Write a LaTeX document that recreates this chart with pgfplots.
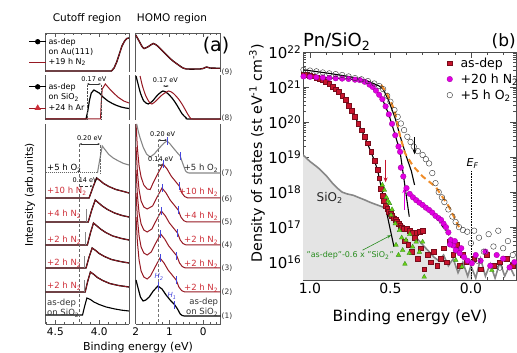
\documentclass[border=0pt]{standalone}
\usepackage{pgfplots}
\pgfplotsset{compat=1.18}
\usepackage{fontspec}
\setmainfont{DejaVu Sans}
\usetikzlibrary{arrows.meta}
\definecolor{cred}{RGB}{150,25,35}
\definecolor{lred}{RGB}{205,45,55}
\definecolor{cgray}{RGB}{135,135,135}
\definecolor{cblue}{RGB}{70,70,220}
\definecolor{sqred}{RGB}{200,20,45}
\definecolor{cmag}{RGB}{225,0,225}
\definecolor{corange}{RGB}{240,140,40}
\definecolor{cgreen}{RGB}{110,205,20}
\definecolor{dgreen}{RGB}{40,140,30}
\definecolor{sifill}{RGB}{228,228,228}
\pgfplotsset{
 pa/.style={scale only axis, anchor=south west, axis line style={black!65, line width=0.6pt}, ytick=\empty, x dir=reverse, clip=true, tick align=inside, tick style={black!65, line width=0.5pt}, major tick length=4pt, minor tick length=2pt, ymin=0},
 pl/.style={pa, width=83.3pt, xmin=3.66, xmax=4.61, xtick={4.0,4.5}, minor xtick={3.7,3.8,3.9,4.1,4.2,4.3,4.4,4.6}},
 pr/.style={pa, width=85pt, xmin=-0.52, xmax=2.0, xtick={0,1,2}, minor xtick={-0.4,-0.2,0.2,0.4,0.6,0.8,1.2,1.4,1.6,1.8}},
 topbox/.style={axis x line*=top, axis y line*=box, xticklabels={}},
 midbox/.style={axis x line=none, axis y line*=box, xtick=\empty},
 botbox/.style={axis x line*=bottom, axis y line*=box, tick label style={font=\fontsize{10.5}{10.5}\selectfont}},
}
\tikzset{
 lab/.style={font=\fontsize{8.5}{9}\selectfont, inner sep=0pt},
 sm/.style={font=\fontsize{6.5}{7}\selectfont, inner sep=0pt},
}
\begin{document}
\begin{tikzpicture}
\path[use as bounding box] (0pt,0pt) rectangle (517pt,353pt);

% ---------------- Cutoff (9)
\begin{axis}[pl, topbox, at={(45.7pt,281pt)}, height=39pt, ymax=39,
 legend style={at={(-0.205,0.93)}, anchor=north west, draw=none, fill=none, font=\fontsize{8}{9}\selectfont, row sep=-1.5pt, inner sep=0pt}, legend cell align=left]
\addlegendimage{black, line width=0.7pt, mark=*, mark size=2.3pt}
\addlegendimage{empty legend}
\addlegendimage{cred, line width=0.7pt}
\addplot[black, line width=1.4pt, forget plot] coordinates {(4.61,1)(3.86,1)(3.83,4)(3.80,10)(3.77,18)(3.74,26)(3.71,31)(3.685,33.5)(3.66,34)};
\addplot[cred, line width=0.8pt, forget plot] coordinates {(4.61,1)(3.86,1)(3.83,4)(3.80,10)(3.77,18)(3.74,26)(3.71,31)(3.685,33.5)(3.66,34)};
\legend{as-dep, on Au(111), +19 h N\textsubscript{2}}
\end{axis}

% ---------------- Cutoff (8)
\begin{axis}[pl, midbox, at={(45.7pt,233pt)}, height=45pt, ymax=45,
 legend style={at={(-0.205,0.87)}, anchor=north west, draw=none, fill=none, font=\fontsize{8}{9}\selectfont, row sep=-1pt, inner sep=0pt}, legend cell align=left]
\addlegendimage{black, line width=0.7pt, mark=*, mark size=2.3pt}
\addlegendimage{empty legend}
\addlegendimage{cred, line width=0.7pt, mark=triangle*, mark size=3pt, mark options={fill=lred, draw=lred}}
\addplot[black, line width=1.2pt, forget plot] coordinates {(4.61,1)(4.15,1)(4.13,9)(4.11,20)(4.09,27)(4.06,30)(4.0,27)(3.95,22.5)(3.9,19)(3.85,16.5)(3.8,14.5)(3.75,13)(3.7,12)(3.66,11.5)};
\addplot[cred, line width=1.0pt, forget plot] coordinates {(4.61,1)(3.985,1)(3.975,20)(3.965,31)(3.93,36)(3.88,31)(3.83,26.5)(3.78,22.5)(3.72,19)(3.66,17)};
\draw[densely dotted, black!70] (axis cs:4.14,1) -- (axis cs:4.14,36);
\draw[densely dotted, black!70] (axis cs:3.98,1) -- (axis cs:3.98,36);
\draw[{Stealth[length=2.5pt]}-{Stealth[length=2.5pt]}, black!80, line width=0.4pt] (axis cs:4.14,36) -- (axis cs:3.98,36);
\node[sm] at (axis cs:4.06,41) {0.17 eV};
\legend{as-dep, on SiO\textsubscript{2}, +24 h Ar}
\end{axis}

% ---------------- Cutoff (1)-(7)
\begin{axis}[pl, botbox, at={(45.7pt,29pt)}, height=200pt, ymax=200, xticklabels={4.0,4.5}]
\addplot[black, line width=1.1pt] coordinates {(4.61,9)(4.19,9)(4.165,18)(4.14,26)(4.10,24.5)(4.06,22)(4.0,19.5)(3.92,17)(3.82,15)(3.74,13.8)(3.66,13)};
\addplot[black, line width=1.3pt] coordinates {(4.61,32)(4.16,32)(4.13,43)(4.10,52)(4.06,49.5)(4.02,46.5)(3.96,43.5)(3.88,40.5)(3.78,38.5)(3.66,37)};
\addplot[cred, line width=0.8pt] coordinates {(4.61,32)(4.16,32)(4.13,43)(4.10,52)(4.06,49.5)(4.02,46.5)(3.96,43.5)(3.88,40.5)(3.78,38.5)(3.66,37)};
\addplot[black, line width=1.3pt] coordinates {(4.61,56)(4.15,56)(4.115,67)(4.08,76)(4.04,73.5)(4.0,70.5)(3.94,67.5)(3.86,64.5)(3.76,62.5)(3.66,61)};
\addplot[cred, line width=0.8pt] coordinates {(4.61,56)(4.15,56)(4.115,67)(4.08,76)(4.04,73.5)(4.0,70.5)(3.94,67.5)(3.86,64.5)(3.76,62.5)(3.66,61)};
\addplot[black, line width=1.3pt] coordinates {(4.61,79)(4.135,79)(4.10,91)(4.065,101)(4.025,98)(3.985,95)(3.925,91.5)(3.845,88)(3.745,85.5)(3.66,84)};
\addplot[cred, line width=0.8pt] coordinates {(4.61,79)(4.135,79)(4.10,91)(4.065,101)(4.025,98)(3.985,95)(3.925,91.5)(3.845,88)(3.745,85.5)(3.66,84)};
\addplot[black, line width=1.3pt] coordinates {(4.61,102)(4.125,102)(4.085,114)(4.045,124)(4.005,121)(3.965,118)(3.905,114.5)(3.825,111)(3.74,108.5)(3.66,107)};
\addplot[cred, line width=0.8pt] coordinates {(4.61,102)(4.125,102)(4.085,114)(4.045,124)(4.005,121)(3.965,118)(3.905,114.5)(3.825,111)(3.74,108.5)(3.66,107)};
\addplot[black, line width=1.3pt] coordinates {(4.61,126)(4.115,126)(4.07,137)(4.03,146)(3.99,143.5)(3.95,140.5)(3.89,137.5)(3.81,134.5)(3.72,132.5)(3.66,131)};
\addplot[cred, line width=0.8pt] coordinates {(4.61,126)(4.115,126)(4.07,137)(4.03,146)(3.99,143.5)(3.95,140.5)(3.89,137.5)(3.81,134.5)(3.72,132.5)(3.66,131)};
\addplot[black!60, line width=1.0pt, densely dotted] coordinates {(4.61,151)(4.02,151)};
\addplot[cgray, line width=1.1pt] coordinates {(4.02,151)(3.99,166)(3.965,178)(3.93,174)(3.89,169.5)(3.84,166)(3.78,163)(3.72,160.5)(3.66,159)};
% reference edges
\addplot[cgray, line width=0.6pt] coordinates {(4.175,32)(4.175,44)};
\addplot[cgray, line width=0.6pt] coordinates {(4.165,56)(4.165,68)};
\addplot[cgray, line width=0.6pt] coordinates {(4.155,79)(4.155,92)};
\addplot[cgray, line width=0.6pt] coordinates {(4.145,102)(4.145,115)};
\draw[densely dashed, black!60, line width=0.4pt] (axis cs:4.225,2) -- (axis cs:4.225,180);
\draw[densely dotted, black!60, line width=0.4pt] (axis cs:3.99,151) -- (axis cs:3.99,180);
\draw[{Stealth[length=2.5pt]}-{Stealth[length=2.5pt]}, black!80, line width=0.4pt] (axis cs:4.225,180) -- (axis cs:3.99,180);
\node[sm] at (axis cs:4.11,186) {0.20 eV};
\draw[densely dashed, black!80, -{Stealth[length=2.5pt]}, line width=0.4pt] (axis cs:4.215,138) -- (axis cs:4.075,138);
\node[sm] at (axis cs:4.16,144) {0.14 eV};
\node[lab, anchor=west] at (axis cs:4.595,156) {+5 h O\textsubscript{2}};
\node[lab, anchor=west, text=lred] at (axis cs:4.595,133) {+10 h N\textsubscript{2}};
\node[lab, anchor=west, text=lred] at (axis cs:4.595,110) {+4 h N\textsubscript{2}};
\node[lab, anchor=west, text=lred] at (axis cs:4.595,84) {+2 h N\textsubscript{2}};
\node[lab, anchor=west, text=lred] at (axis cs:4.595,61) {+2 h N\textsubscript{2}};
\node[lab, anchor=west, text=lred] at (axis cs:4.595,38) {+2 h N\textsubscript{2}};
\node[lab, anchor=west, text=black!80] at (axis cs:4.595,21) {as-dep};
\node[lab, anchor=west, text=black!80] at (axis cs:4.595,11) {on SiO\textsubscript{2}};
\end{axis}

% ---------------- HOMO (9)
\begin{axis}[pr, topbox, at={(135.7pt,281pt)}, height=39pt, ymax=39]
\addplot[black, line width=1.4pt, smooth, tension=0.4] coordinates {(2.0,37)(1.9,31)(1.82,26)(1.75,23.5)(1.62,25.5)(1.48,28.5)(1.35,26)(1.18,20.3)(0.93,12)(0.73,7)(0.6,4)(0.5,3)(0.1,3)(0.0,3.5)(-0.1,5)(-0.2,4)(-0.5,3.7)};
\addplot[cred, line width=0.8pt, smooth, tension=0.4] coordinates {(2.0,37)(1.9,31)(1.82,26)(1.75,23.5)(1.62,25.5)(1.48,28.5)(1.35,26)(1.18,20.3)(0.93,12)(0.73,7)(0.6,4)(0.5,3)(0.1,3)(0.0,3.5)(-0.1,5)(-0.2,4)(-0.5,3.7)};
\end{axis}

% ---------------- HOMO (8)
\begin{axis}[pr, midbox, at={(135.7pt,233pt)}, height=45pt, ymax=45]
\addplot[black, line width=1.2pt, smooth, tension=0.4] coordinates {(1.99,44)(1.93,36)(1.86,27)(1.76,19)(1.63,16)(1.50,19)(1.35,25)(1.19,29)(1.05,26.5)(0.90,21)(0.78,15)(0.62,6)(0.50,2)(0.44,1)(-0.52,1)};
\addplot[cred, line width=1.0pt, smooth, tension=0.4] coordinates {(1.87,44)(1.80,34)(1.70,24)(1.60,18)(1.52,16)(1.40,19)(1.22,25)(1.02,29)(0.88,26.5)(0.73,21)(0.61,15)(0.46,6)(0.38,2)(0.32,1)(-0.52,1)};
\draw[{Stealth[length=2.5pt]}-{Stealth[length=2.5pt]}, black!80, line width=0.4pt] (axis cs:1.19,34) -- (axis cs:1.02,34);
\node[sm] at (axis cs:1.12,39.5) {0.17 eV};
\end{axis}

% ---------------- HOMO (1)-(7)
\begin{axis}[pr, botbox, at={(135.7pt,29pt)}, height=200pt, ymax=200, xticklabels={0,1,2}]
\addplot[black, line width=1.2pt] coordinates {(1.99,44)(1.93,36)(1.86,27)(1.78,23)(1.70,24)(1.60,27)(1.48,33)(1.34,38)(1.22,35)(1.10,29)(0.98,24)(0.84,19)(0.76,15)(0.68,10)(0.62,8.5)(0.56,8)(-0.52,8)};
\addplot[cred, line width=1.0pt] coordinates {(1.99,107)(1.95,82)(1.90,64)(1.84,53)(1.76,47)(1.66,45)(1.56,48)(1.44,56)(1.28,66)(1.16,61)(1.04,54)(0.92,49)(0.80,44)(0.72,37)(0.64,33.5)(0.58,32.5)(0.54,32)(-0.52,32)};
\addplot[cred, line width=1.0pt] coordinates {(1.99,131)(1.95,106)(1.90,88)(1.84,77)(1.76,71)(1.66,69)(1.54,72)(1.42,80)(1.26,90)(1.14,85)(1.02,78)(0.90,73)(0.78,68)(0.70,61)(0.62,57.5)(0.56,56.5)(0.52,56)(-0.52,56)};
\addplot[cred, line width=1.0pt] coordinates {(1.99,154)(1.95,129)(1.90,111)(1.84,100)(1.76,94)(1.66,92)(1.52,95)(1.40,103)(1.24,113)(1.12,108)(1.00,101)(0.88,96)(0.76,91)(0.68,84)(0.60,80.5)(0.54,79.5)(0.50,79)(-0.52,79)};
\addplot[cred, line width=1.0pt] coordinates {(1.99,177)(1.95,152)(1.90,134)(1.84,123)(1.76,117)(1.66,115)(1.50,118)(1.38,126)(1.22,136)(1.10,131)(0.98,124)(0.86,119)(0.74,114)(0.66,107)(0.58,103.5)(0.52,102.5)(0.48,102)(-0.52,102)};
\addplot[cred, line width=1.0pt] coordinates {(1.99,200)(1.95,176)(1.90,158)(1.84,147)(1.76,139)(1.66,135)(1.57,134.5)(1.47,142)(1.35,150)(1.19,160)(1.07,155)(0.95,148)(0.83,143)(0.71,138)(0.63,131)(0.55,127.5)(0.49,126.5)(0.45,126)(-0.52,126)};
\addplot[cgray, line width=1.1pt] coordinates {(1.97,200)(1.92,192)(1.86,185)(1.78,177)(1.68,170)(1.57,167)(1.45,170)(1.30,176)(1.16,181)(1.07,183)(0.98,180)(0.86,175)(0.76,171)(0.68,168)(0.60,160)(0.52,153)(0.47,151.5)(0.42,151)(-0.52,151)};
\draw[densely dashed, black!55, line width=0.4pt] (axis cs:1.335,2) -- (axis cs:1.335,184);
\draw[{Stealth[length=2.5pt]}-{Stealth[length=2.5pt]}, black!80, line width=0.4pt] (axis cs:1.335,184) -- (axis cs:1.07,184);
\node[sm] at (axis cs:1.2,190) {0.20 eV};
\draw[{Stealth[length=2.5pt]}-{Stealth[length=2.5pt]}, black!80, line width=0.4pt] (axis cs:1.335,159) -- (axis cs:1.19,159);
\node[sm] at (axis cs:1.26,164.5) {0.14 eV};
% blue H marks
\foreach \bx/\by in {1.34/38,0.84/19,1.28/66,0.80/44,1.26/90,0.78/68,1.24/113,0.76/91,1.22/136,0.74/114,1.19/160,0.71/138,1.07/183,0.68/168}{
 \edef\temp{\noexpand\draw[cblue, line width=0.8pt] (axis cs:\bx,\by-4) -- (axis cs:\bx,\by+4);}\temp
}
\node[font=\fontsize{7}{7}\itshape, text=cblue, inner sep=0pt] at (axis cs:1.31,47) {H\textsubscript{2}};
\node[font=\fontsize{7}{7}\itshape, text=cblue, inner sep=0pt] at (axis cs:0.92,28) {H\textsubscript{1}};
\node[lab, anchor=east, text=black!85] at (axis cs:-0.45,156) {+5 h O\textsubscript{2}};
\node[lab, anchor=east, text=lred] at (axis cs:-0.45,132) {+10 h N\textsubscript{2}};
\node[lab, anchor=east, text=lred] at (axis cs:-0.45,108) {+4 h N\textsubscript{2}};
\node[lab, anchor=east, text=lred] at (axis cs:-0.45,84) {+2 h N\textsubscript{2}};
\node[lab, anchor=east, text=lred] at (axis cs:-0.45,60) {+2 h N\textsubscript{2}};
\node[lab, anchor=east, text=lred] at (axis cs:-0.45,36) {+2 h N\textsubscript{2}};
\node[lab, anchor=east, text=black!80] at (axis cs:-0.45,22) {as-dep};
\node[lab, anchor=east, text=black!80] at (axis cs:-0.45,12) {on SiO\textsubscript{2}};
\end{axis}

% labels of panel (a)
\node[font=\fontsize{10.5}{10.5}\selectfont] at (87pt,334pt) {Cutoff region};
\node[font=\fontsize{10.5}{10.5}\selectfont] at (172pt,334pt) {HOMO region};
\node[font=\fontsize{11}{11}\selectfont] at (138pt,6pt) {Binding energy (eV)};
\node[font=\fontsize{10.5}{10.5}\selectfont, rotate=90] at (30pt,158pt) {Intensity (arb.units)};
\node[font=\fontsize{19}{19}\selectfont] at (216pt,307pt) {(a)};
\foreach \k/\yy in {9/281,8/235,7/180,6/154,5/131,4/108,3/85,2/61,1/37}{
 \node[font=\fontsize{7.5}{8}\selectfont, anchor=west, inner sep=0pt, text=black!80] at (221.5pt,\yy pt) {(\k)};
}

% ---------------- Panel (b)
\begin{axis}[scale only axis, anchor=south west, at={(303pt,73pt)}, width=213pt, height=228pt,
 ymode=log, x dir=reverse, xmin=-0.28, xmax=1.043, ymin=3.1e15, ymax=1e22,
 xtick={0,0.5,1}, xticklabels={0.0,0.5,1.0}, minor xtick={-0.2,-0.1,0.1,0.2,0.3,0.4,0.6,0.7,0.8,0.9},
 ytick={1e16,1e17,1e18,1e19,1e20,1e21,1e22},
 yticklabels={10\textsuperscript{16},10\textsuperscript{17},10\textsuperscript{18},10\textsuperscript{19},10\textsuperscript{20},10\textsuperscript{21},10\textsuperscript{22}},
 tick align=inside, axis line style={black!70, line width=0.7pt}, tick style={black!70, line width=0.6pt},
 major tick length=6pt, minor tick length=3pt,
 xticklabel style={font=\fontsize{14}{14}\selectfont},
 yticklabel style={font=\fontsize{15}{15}\selectfont, inner sep=1.5pt},
 legend style={at={(0.675,0.985)}, anchor=north west, draw=none, fill=none, font=\fontsize{12.5}{13}\selectfont, row sep=1pt, column sep=6pt, inner sep=0pt},
 legend cell align=left]
\addplot[fill=sifill, draw=none, forget plot] coordinates {(1.05,1e15)(1.043,1.15e19)(1.00,7.5e18)(0.95,5e18)(0.90,3e18)(0.86,1.8e18)(0.83,1.3e18)(0.80,1.0e18)(0.77,8.9e17)(0.73,8.1e17)(0.70,7.1e17)(0.66,6e17)(0.63,5.2e17)(0.60,4.6e17)(0.55,3.8e17)(0.52,3.2e17)(0.49,2.5e17)(0.45,1.6e17)(0.42,1.1e17)(0.38,7.9e16)(0.35,5.6e16)(0.32,4e16)(0.29,2.8e16)(0.26,2e16)(0.23,1.4e16)(0.20,1.1e16)(0.17,1.6e16)(0.14,7.9e15)(0.11,1.26e16)(0.08,5e15)(0.05,1e16)(0.02,4e15)(0.0,7.9e15)(-0.01,1e15)} -- cycle;
\addplot[cgray, line width=1.6pt, forget plot] coordinates {(1.043,1.15e19)(1.00,7.5e18)(0.95,5e18)(0.90,3e18)(0.86,1.8e18)(0.83,1.3e18)(0.80,1.0e18)(0.77,8.9e17)(0.73,8.1e17)(0.70,7.1e17)(0.66,6e17)(0.63,5.2e17)(0.60,4.6e17)(0.55,3.8e17)(0.52,3.2e17)(0.49,2.5e17)(0.45,1.6e17)(0.42,1.1e17)(0.38,7.9e16)(0.35,5.6e16)(0.32,4e16)(0.29,2.8e16)(0.26,2e16)(0.23,1.4e16)(0.20,1.1e16)(0.17,1.6e16)(0.14,7.9e15)(0.11,1.26e16)(0.08,5e15)(0.05,1e16)(0.02,4e15)(0.0,7.9e15)(-0.03,3.5e15)(-0.06,1.26e16)(-0.09,4e15)(-0.12,8.9e15)(-0.15,3.5e15)(-0.18,1e16)(-0.21,4e15)(-0.24,7.9e15)(-0.27,4e15)};
% as-dep squares
\addplot[only marks, mark=square*, mark size=2.4pt, mark options={fill=sqred, draw=sqred!60!black, line width=0.3pt}] coordinates {(1.04,2.3e21)(1.02,2.24e21)(1.00,2.14e21)(0.98,2.04e21)(0.96,1.9e21)(0.94,1.74e21)(0.92,1.58e21)(0.90,1.41e21)(0.88,1.23e21)(0.86,1.05e21)(0.84,8.7e20)(0.82,7.2e20)(0.80,5.75e20)(0.78,4.27e20)(0.76,3.0e20)(0.74,2.14e20)(0.72,1.41e20)(0.70,8.9e19)(0.68,5.9e19)(0.66,3.8e19)(0.64,2.5e19)(0.62,1.41e19)(0.60,8.1e18)(0.58,4.3e18)(0.57,2.5e18)(0.56,1.26e18)(0.55,7.9e17)(0.54,5.6e17)(0.53,4.2e17)(0.52,3.3e17)(0.51,2.8e17)(0.50,2.4e17)(0.49,2.1e17)(0.48,1.8e17)(0.47,1.6e17)(0.46,1.4e17)(0.45,1.26e17)(0.44,1.12e17)(0.43,1.0e17)(0.42,8.9e16)(0.40,8.9e16)(0.38,7.9e16)(0.36,7.1e16)(0.34,7.1e16)(0.32,7.6e16)(0.30,7.9e16)(0.41,4e16)(0.39,3.2e16)(0.37,2e16)(0.35,5e16)(0.33,1.26e16)(0.31,2.5e16)(0.29,6.3e15)(0.27,1.6e16)(0.25,1e16)(0.23,2e16)(0.21,7.9e15)(0.19,1.26e16)(0.17,2.5e16)(0.15,1e16)(0.13,4e16)(0.11,1.6e16)(0.09,3.2e16)(0.07,7.9e15)(0.05,1.6e16)(0.03,1e16)(-0.02,1.26e16)(-0.06,6.3e15)(-0.1,1.6e16)(-0.14,7.9e15)(-0.18,1e16)(-0.22,1.26e16)(-0.26,7.9e15)};
% green difference
\addplot[only marks, mark=triangle*, mark size=2.7pt, mark options={fill=cgreen, draw=dgreen, line width=0.3pt}, forget plot] coordinates {(0.55,1.6e18)(0.537,1.15e18)(0.525,7.1e17)(0.515,5.6e17)(0.506,4.8e17)(0.49,3.2e17)(0.496,2.2e17)(0.47,1.26e17)(0.444,8.1e16)(0.43,5e16)(0.465,3.1e16)(0.424,2.2e16)(0.45,1.6e16)(0.403,4.3e16)(0.41,8.9e15)(0.383,1.8e16)(0.38,6.3e16)(0.362,2.75e16)(0.34,3.8e16)(0.32,1.95e16)(0.30,3.8e16)(0.29,3.8e15)(0.094,1.15e16)(0.074,1.95e16)(0.056,7.4e15)(-0.13,5.9e15)};
% +20 h N2
\addplot[only marks, mark=*, mark size=2.8pt, mark options={fill=cmag, draw=cmag!70!black, line width=0.3pt}] coordinates {(1.04,2.0e21)(1.00,1.95e21)(0.96,1.9e21)(0.92,1.86e21)(0.88,1.82e21)(0.84,1.78e21)(0.80,1.74e21)(0.76,1.7e21)(0.72,1.62e21)(0.69,1.58e21)(0.66,1.41e21)(0.63,1.17e21)(0.61,1e21)(0.59,7.9e20)(0.57,6e20)(0.55,4.5e20)(0.53,2.8e20)(0.51,1.66e20)(0.49,8.9e19)(0.47,4.2e19)(0.45,2e19)(0.44,1.41e19)(0.435,5e18)(0.42,2.8e18)(0.40,1.3e18)(0.38,8.9e17)(0.36,7.1e17)(0.34,5.9e17)(0.32,5e17)(0.30,4.3e17)(0.28,3.6e17)(0.26,3.1e17)(0.24,2.6e17)(0.22,2.1e17)(0.20,1.8e17)(0.185,1.6e17)(0.17,1.26e17)(0.155,1e17)(0.14,7.1e16)(0.125,4.3e16)(0.11,3e16)(0.094,2.2e16)(0.07,1.8e16)(0.043,1.4e16)(0.02,1.1e16)(-0.006,9.3e15)(0.13,3.2e16)(0.10,4e16)(0.06,2.5e16)(-0.03,1.6e16)(-0.06,1.1e16)(-0.09,2e16)(-0.12,7.9e15)(-0.16,1.6e16)(-0.2,1.26e16)(-0.24,7.1e15)(-0.27,1e16)};
% +5 h O2
\addplot[only marks, mark=o, mark size=2.8pt, mark options={fill=white, draw=black!80, line width=0.4pt}] coordinates {(1.04,3.1e21)(1.00,2.95e21)(0.96,2.8e21)(0.92,2.6e21)(0.88,2.45e21)(0.84,2.34e21)(0.80,2.2e21)(0.76,2.0e21)(0.72,1.8e21)(0.68,1.66e21)(0.64,1.48e21)(0.60,1.26e21)(0.57,1.07e21)(0.545,8.7e20)(0.52,5.6e20)(0.50,3.8e20)(0.475,2.2e20)(0.455,1.41e20)(0.435,9.1e19)(0.415,5.9e19)(0.395,3.8e19)(0.375,2.7e19)(0.355,2e19)(0.33,1.48e19)(0.30,1.15e19)(0.28,8.7e18)(0.26,6.6e18)(0.24,3.5e18)(0.22,1.8e18)(0.20,1e18)(0.18,7.1e17)(0.165,5.2e17)(0.14,3.2e17)(0.115,2e17)(0.095,1.4e17)(0.074,1e17)(0.05,8.3e16)(0.023,7.4e16)(0.0,3.5e16)(-0.02,7.9e16)(-0.05,5e16)(-0.08,2e16)(-0.11,6.3e16)(-0.14,2.8e16)(-0.17,7.9e16)(-0.2,2.5e16)(-0.23,4e16)(-0.26,1.6e16)(-0.04,1.1e16)(-0.18,7e15)};
% fits
\addplot[black, line width=1.1pt, forget plot] coordinates {(1.04,2.3e21)(0.96,1.9e21)(0.90,1.41e21)(0.84,8.7e20)(0.78,4.27e20)(0.72,1.41e20)(0.66,3.8e19)(0.60,8.1e18)(0.58,4.3e18)(0.478,2.75e16)};
\addplot[black, line width=1.1pt, forget plot] coordinates {(1.04,2.0e21)(0.80,1.74e21)(0.69,1.58e21)(0.63,1.17e21)(0.59,7.9e20)(0.55,4.5e20)(0.51,1.66e20)(0.47,4.2e19)(0.44,1.41e19)(0.383,2e17)};
\addplot[black, line width=1.1pt, forget plot] coordinates {(1.04,3.1e21)(0.88,2.45e21)(0.76,2.0e21)(0.64,1.48e21)(0.57,1.07e21)(0.545,8.7e20)(0.51,4e20)(0.47,1.26e20)(0.44,4e19)(0.40,1e19)(0.37,4e18)(0.35,1.6e18)};
\addplot[black, line width=1.1pt, dash pattern=on 4pt off 2pt on 1pt off 2pt, forget plot] coordinates {(0.25,3e17)(0.06,2e16)};
\addplot[corange, line width=2pt, dash pattern=on 6pt off 4pt, forget plot] coordinates {(0.557,1.15e21)(0.52,6.3e20)(0.475,2.2e20)(0.44,4e19)(0.41,1.3e19)(0.36,5.6e18)(0.30,2.8e18)(0.218,1.4e18)(0.136,3.8e17)(0.074,1e17)};
% arrows and annotations
\draw[-{Stealth[length=5pt,width=4pt]}, sqred, line width=1pt] (axis cs:0.53,8.5e18) -- (axis cs:0.53,1.9e18);
\draw[-{Stealth[length=5pt,width=4pt]}, black, line width=1pt] (axis cs:0.35,3.7e19) -- (axis cs:0.35,1.2e19);
\draw[-{Stealth[length=5pt,width=4pt]}, cmag, line width=1.2pt] (axis cs:0.414,3.1e17) -- (axis cs:0.414,1.3e18);
\draw[densely dotted, black, line width=0.6pt] (axis cs:-0.005,4e18) -- (axis cs:-0.005,3e15);
\node[anchor=south, font=\fontsize{11}{11}\selectfont\itshape, inner sep=1pt] at (axis cs:-0.01,4.3e18) {E\textsubscript{F}};
\node[font=\fontsize{12}{12}\selectfont, text=black!85] at (axis cs:0.877,6.8e17) {SiO\textsubscript{2}};
\draw[-{Stealth[length=4pt]}, dgreen, line width=0.6pt] (axis cs:0.673,2.2e16) -- (axis cs:0.496,5.9e16);
\node[font=\fontsize{8}{8}\selectfont, text=dgreen] at (axis cs:0.75,1.55e16) {"as-dep"-0.6 x "SiO\textsubscript{2}"};
\legend{as-dep, +20 h N\textsubscript{2}, +5 h O\textsubscript{2}}
\end{axis}

\node[font=\fontsize{14.2}{15}\selectfont, rotate=90] at (257pt,200pt) {Density of states (st eV\textsuperscript{-1} cm\textsuperscript{-3})};
\node[font=\fontsize{15.5}{16}\selectfont] at (410pt,36pt) {Binding energy (eV)};
\node[font=\fontsize{18}{18}\selectfont, anchor=base west, inner sep=0pt] at (303pt,306pt) {Pn/SiO\textsubscript{2}};
\node[font=\fontsize{17}{17}\selectfont, anchor=base east, inner sep=0pt] at (516pt,306pt) {(b)};
\end{tikzpicture}
\end{document}
